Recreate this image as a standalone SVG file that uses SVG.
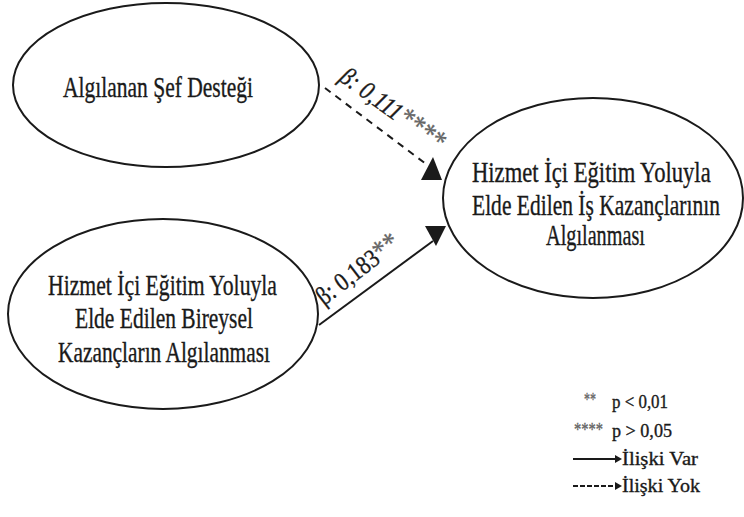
<svg xmlns="http://www.w3.org/2000/svg" width="744" height="517" viewBox="0 0 744 517">
  <style>
    .node ellipse { fill: #ffffff; stroke: #1a1a1a; stroke-width: 2; }
    text { font-family: "Liberation Serif", "Times New Roman", serif; fill: #1a1a1a; stroke: #1a1a1a; stroke-width: 0.35; }
    .lbl { font-size: 29px; }
    .coef { font-size: 26px; }
    .leg { font-size: 19px; }
    .star { fill: #666666; stroke: #666666; }
    .edge { stroke: #1a1a1a; stroke-width: 2; fill: none; }
    .dash { stroke-dasharray: 7 6; }
    .head { fill: #1a1a1a; stroke: none; }
  </style>
  <rect width="744" height="517" fill="#ffffff"/>

  <!-- Connectors -->
  <g id="connectors">
    <line class="edge dash" x1="325" y1="88" x2="426" y2="164"/>
    <polygon class="head" points="433,157 421,180 442,180"/>
    <line class="edge" x1="319" y1="325" x2="433" y2="241"/>
    <polygon class="head" points="425,226 446,226 436,246"/>
    <text class="coef" font-style="italic" transform="translate(338,80) rotate(36)" textLength="122" lengthAdjust="spacingAndGlyphs">β: 0,111<tspan class="star" font-size="30">****</tspan></text>
    <text class="coef" transform="translate(324,306) rotate(-37.5)" textLength="98" lengthAdjust="spacingAndGlyphs">β: 0,183<tspan class="star" font-size="30">**</tspan></text>
  </g>

  <!-- Node: perceived supervisor support -->
  <g id="node-sef-destegi" class="node">
    <ellipse cx="166" cy="85" rx="153" ry="82"/>
    <text class="lbl" x="63" y="97" textLength="190" lengthAdjust="spacingAndGlyphs">Algılanan Şef Desteği</text>
  </g>

  <!-- Node: perceived individual gains -->
  <g id="node-bireysel" class="node">
    <ellipse cx="163" cy="314" rx="155" ry="95"/>
    <text class="lbl" x="48" y="295" textLength="229" lengthAdjust="spacingAndGlyphs">Hizmet İçi Eğitim Yoluyla</text>
    <text class="lbl" x="75" y="328" textLength="178" lengthAdjust="spacingAndGlyphs">Elde Edilen Bireysel</text>
    <text class="lbl" x="58" y="362" textLength="212" lengthAdjust="spacingAndGlyphs">Kazançların Algılanması</text>
  </g>

  <!-- Node: perceived job gains (long lines narrowed with a horizontal scale) -->
  <g id="node-is-kazanclari" class="node">
    <ellipse cx="593" cy="198" rx="150" ry="100"/>
    <text class="lbl" transform="translate(472,182) scale(0.77,1)" x="0" y="0" textLength="310" lengthAdjust="spacingAndGlyphs">Hizmet İçi Eğitim Yoluyla</text>
    <text class="lbl" transform="translate(472,215) scale(0.77,1)" x="0" y="0" textLength="322" lengthAdjust="spacingAndGlyphs">Elde Edilen İş Kazançlarının</text>
    <text class="lbl" x="546" y="245" textLength="99" lengthAdjust="spacingAndGlyphs">Algılanması</text>
  </g>

  <!-- Legend -->
  <g id="legend">
    <text class="leg star" x="584" y="406" font-size="27" textLength="12" lengthAdjust="spacingAndGlyphs">**</text>
    <text class="leg" x="612" y="408" textLength="56" lengthAdjust="spacingAndGlyphs">p &lt; 0,01</text>
    <text class="leg star" x="574" y="436" font-size="27" textLength="29" lengthAdjust="spacingAndGlyphs">****</text>
    <text class="leg" x="612" y="437" textLength="60" lengthAdjust="spacingAndGlyphs">p &gt; 0,05</text>
    <line class="edge" x1="573" y1="459" x2="616" y2="459" stroke-width="1.6"/>
    <polygon class="head" points="615,455 622,459 615,463"/>
    <text class="leg" x="622" y="465" textLength="76" lengthAdjust="spacingAndGlyphs">İlişki Var</text>
    <line class="edge" x1="573" y1="486" x2="616" y2="486" stroke-width="1.6" stroke-dasharray="5 2"/>
    <polygon class="head" points="615,482 622,486 615,490"/>
    <text class="leg" x="622" y="492" textLength="78" lengthAdjust="spacingAndGlyphs">İlişki Yok</text>
  </g>
</svg>
